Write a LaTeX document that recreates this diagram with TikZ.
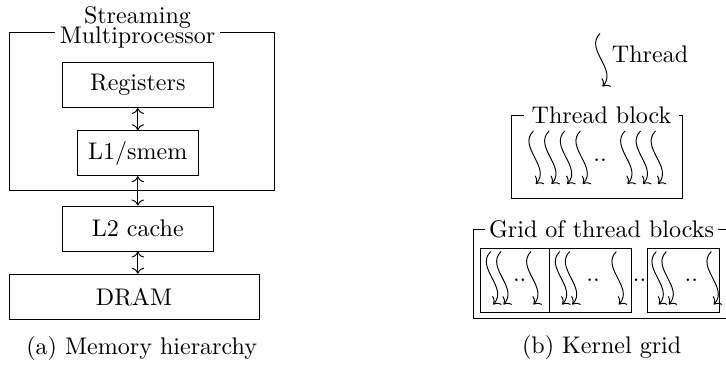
\documentclass[tikz,border=0pt]{standalone}
\usetikzlibrary{arrows.meta}
\newcommand{\pu}{0.4158pt}
\begin{document}
\begin{tikzpicture}[x=0.4158pt,y=-0.4158pt,
  box/.style={draw,inner sep=0pt,minimum height={45*\pu}},
  ttl/.style={fill=white,inner ysep=0pt},
  thr/.pic={\draw[->] (0,0) .. controls (-16,16) and (18,36) .. (2.5,53);},
  dots/.style={inner sep=0pt}
]
\useasboundingbox (0,0) rectangle (726,364);
% ---------- (a) memory hierarchy
\node[box,minimum width={265*\pu},minimum height={158.4*\pu}] (sm) at (141.5,111.5) {};
\node[ttl,align=center,inner xsep=2pt,anchor=north] (smt) at (137.5,5.7) {Streaming\\[-3.5pt]Multiprocessor};
\node[box,minimum width={151*\pu}] (regs) at (137.8,85) {Registers};
\node[box,minimum width={121*\pu}] (l1) at (137.8,153.2) {L1/smem};
\node[box,minimum width={151*\pu}] (l2) at (137.8,228.5) {L2 cache};
\node[box,minimum width={250*\pu}] (dram) at (134,296.7) {DRAM};
\draw[<->] (regs) -- (l1);
\draw[<->] (l1) -- (l2);
\draw[<->] (l2.south) -- (l2.south |- dram.north);
\node[anchor=base] (capa) at (141.7,354) {(a) Memory hierarchy};
% ---------- (b) kernel grid
\pic at (600,33.5) {thr};
\node[anchor=base west,inner sep=0pt] (thl) at (611.5,62.5) {Thread};
\node[box,minimum width={171*\pu},minimum height={82.6*\pu}] (tb) at (597.2,157) {};
\node[ttl] (tbt) at (601.5,115) {Thread block};
\foreach \x in {533.3,549,564.7,580.3,625,640.5,655.5}
  \pic at (\x,131) {thr};
\node[dots] (tbd) at (600,160) {..};
% grid
\node[box,minimum width={256.4*\pu},minimum height={89*\pu}] (grid) at (601.5,273.8) {};
\node[ttl,inner xsep=1.5pt] (gt) at (601.5,229.3) {Grid of thread blocks};
\node[box,minimum width={68.8*\pu},minimum height={63.5*\pu}] (b1) at (515.1,280.25) {};
\node[box,minimum width={82*\pu},minimum height={63.5*\pu}] (b2) at (590.5,280.25) {};
\node[box,minimum width={72.5*\pu},minimum height={63.5*\pu}] (b3) at (683.25,280.25) {};
\foreach \x in {490.7,501,531,559.7,569.7,616.3,656.3,666.3,711.3}
  \pic at (\x,251.5) {thr};
\node[dots] (d1) at (519.7,280.7) {..};
\node[dots] (d2) at (593,280.7) {..};
\node[dots] (d3) at (639.5,280.7) {..};
\node[dots] (d4) at (691.3,280.7) {..};
\node[anchor=base] (capb) at (601.7,353.5) {(b) Kernel grid};
\end{tikzpicture}
\end{document}
